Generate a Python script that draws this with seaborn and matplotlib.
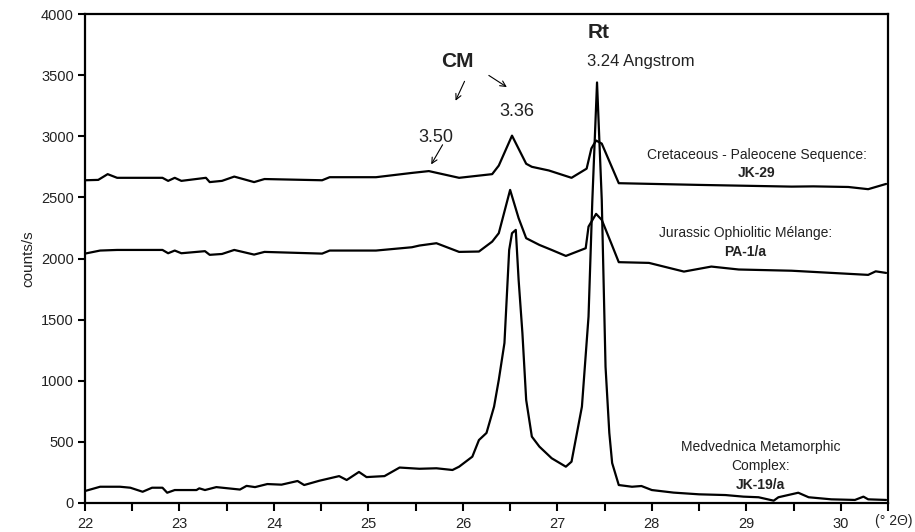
import matplotlib
matplotlib.use("Agg")
import matplotlib.pyplot as plt
import seaborn as sns
import pandas as pd
from matplotlib.ticker import MultipleLocator

# ---- data (2-theta, counts/s) ----
jk29_x = [22.00, 22.14, 22.24, 22.34, 22.82, 22.88, 22.95, 23.02, 23.28, 23.32, 23.45, 23.58,
          23.79, 23.90, 24.51, 24.59, 25.08, 25.46, 25.64, 25.96, 26.31, 26.38, 26.52, 26.67,
          26.73, 26.91, 27.15, 27.31, 27.36, 27.41, 27.47, 27.57, 27.65, 28.50, 29.48, 29.71,
          30.08, 30.29, 30.48]
jk29_y = [2640, 2643, 2690, 2660, 2660, 2635, 2660, 2635, 2660, 2625, 2635, 2670,
          2625, 2650, 2640, 2665, 2665, 2700, 2715, 2660, 2690, 2760, 3005, 2775,
          2750, 2720, 2660, 2735, 2900, 2965, 2940, 2760, 2616, 2602, 2588, 2590,
          2585, 2567, 2610]

pa1_x = [22.00, 22.16, 22.34, 22.82, 22.88, 22.95, 23.02, 23.27, 23.32, 23.45, 23.58, 23.79,
         23.90, 24.51, 24.59, 25.08, 25.46, 25.54, 25.72, 25.96, 26.17, 26.31, 26.38, 26.50,
         26.59, 26.67, 26.81, 26.94, 27.09, 27.30, 27.33, 27.41, 27.47, 27.57, 27.65, 27.97,
         28.34, 28.63, 28.92, 29.48, 30.29, 30.37, 30.48]
pa1_y = [2040, 2065, 2070, 2070, 2043, 2065, 2043, 2060, 2030, 2037, 2070, 2032,
         2054, 2040, 2065, 2065, 2092, 2106, 2125, 2054, 2057, 2138, 2207, 2561,
         2330, 2166, 2111, 2070, 2021, 2084, 2261, 2365, 2316, 2125, 1970, 1964,
         1893, 1934, 1910, 1900, 1866, 1895, 1882]

jk19_x = [22.00, 22.16, 22.37, 22.48, 22.61, 22.71, 22.82, 22.87, 22.95, 23.18, 23.21, 23.27,
          23.39, 23.64, 23.71, 23.80, 23.93, 24.08, 24.25, 24.32, 24.48, 24.69, 24.77, 24.90,
          24.98, 25.17, 25.33, 25.54, 25.72, 25.89, 25.96, 26.10, 26.17, 26.25, 26.33, 26.38,
          26.44, 26.49, 26.52, 26.56, 26.59, 26.63, 26.67, 26.73, 26.81, 26.94, 27.09, 27.15,
          27.26, 27.33, 27.37, 27.42, 27.47, 27.51, 27.55, 27.58, 27.65, 27.79, 27.89, 28.00,
          28.23, 28.50, 28.78, 28.97, 29.13, 29.29, 29.34, 29.55, 29.66, 29.90, 30.15, 30.24,
          30.29, 30.48]
jk19_y = [98, 133, 133, 125, 92, 125, 125, 84, 106, 106, 120, 106,
          130, 110, 140, 130, 155, 150, 180, 147, 182, 220, 188, 254,
          212, 220, 290, 280, 284, 270, 297, 379, 515, 573, 788, 1007,
          1309, 2070, 2207, 2234, 1825, 1391, 843, 543, 461, 366, 297, 338,
          788, 1525, 2470, 3440, 2480, 1115, 573, 327, 147, 133, 139, 106,
          85, 71, 65, 52, 47, 19, 47, 84, 47, 30, 25, 52,
          30, 25]

x_ticks = [22, 23, 24, 25, 26, 27, 28, 29, 30]
y_ticks = [0, 500, 1000, 1500, 2000, 2500, 3000, 3500, 4000]

sns.set_style("ticks")
plt.rcParams["font.family"] = ["Liberation Sans", "DejaVu Sans"]

fig = plt.figure(figsize=(9.15, 5.32), dpi=100)
ax = fig.add_axes([85 / 915, 1 - 503 / 532, (888 - 85) / 915, (503 - 14) / 532])

for xs, ys in [(jk29_x, jk29_y), (pa1_x, pa1_y), (jk19_x, jk19_y)]:
    df = pd.DataFrame({"two_theta": xs, "counts": ys})
    sns.lineplot(data=df, x="two_theta", y="counts", ax=ax, color="black",
                 linewidth=1.6, sort=False, estimator=None)

ax.set_xlim(22, 30.5)
ax.set_ylim(0, 4000)
ax.set_xticks(x_ticks)
ax.set_xticklabels([str(t) for t in x_ticks])
ax.xaxis.set_minor_locator(MultipleLocator(0.5))
ax.set_yticks(y_ticks)
ax.set_yticklabels([str(t) for t in y_ticks])
for s in ax.spines.values():
    s.set_visible(True)
    s.set_linewidth(1.6)
    s.set_color("black")
ax.tick_params(axis="both", which="both", direction="out", width=1.5, color="black",
               labelsize=10.5, labelcolor="#222222")
ax.tick_params(axis="x", which="both", length=6, pad=4)
ax.tick_params(axis="y", which="major", length=5, pad=3)
ax.set_xlabel("")
ax.set_ylabel("counts/s", fontsize=11, color="#222222", labelpad=4)

txt = "#222222"
ax.text(25.94, 3609, "CM", fontsize=15, fontweight="bold", ha="center", va="center", color=txt)
ax.annotate("", xy=(25.91, 3270), xytext=(26.03, 3470),
            arrowprops=dict(arrowstyle="->", color="black", lw=0.8))
ax.annotate("", xy=(26.49, 3390), xytext=(26.25, 3510),
            arrowprops=dict(arrowstyle="->", color="black", lw=0.8))
ax.text(25.71, 2990, "3.50", fontsize=13, ha="center", va="center", color=txt)
ax.annotate("", xy=(25.65, 2750), xytext=(25.80, 2950),
            arrowprops=dict(arrowstyle="->", color="black", lw=0.8))
ax.text(26.57, 3200, "3.36", fontsize=13, ha="center", va="center", color=txt)
ax.text(27.44, 3845, "Rt", fontsize=15, fontweight="bold", ha="center", va="center", color=txt)
ax.text(27.88, 3610, "3.24 Angstrom", fontsize=12, ha="center", va="center", color=txt)

ax.text(29.11, 2845, "Cretaceous - Paleocene Sequence:", fontsize=10, ha="center", va="center", color=txt)
ax.text(29.11, 2700, "JK-29", fontsize=10, fontweight="bold", ha="center", va="center", color=txt)
ax.text(28.99, 2210, "Jurassic Ophiolitic Mélange:", fontsize=10, ha="center", va="center", color=txt)
ax.text(28.99, 2055, "PA-1/a", fontsize=10, fontweight="bold", ha="center", va="center", color=txt)
ax.text(29.15, 460, "Medvednica Metamorphic", fontsize=10, ha="center", va="center", color=txt)
ax.text(29.15, 305, "Complex:", fontsize=10, ha="center", va="center", color=txt)
ax.text(29.15, 150, "JK-19/a", fontsize=10, fontweight="bold", ha="center", va="center", color=txt)

fig.text(894 / 915, 1 - 521 / 532, "(° 2Θ)", fontsize=10, ha="center", va="center", color=txt)

fig.savefig("out.png", dpi=100)
